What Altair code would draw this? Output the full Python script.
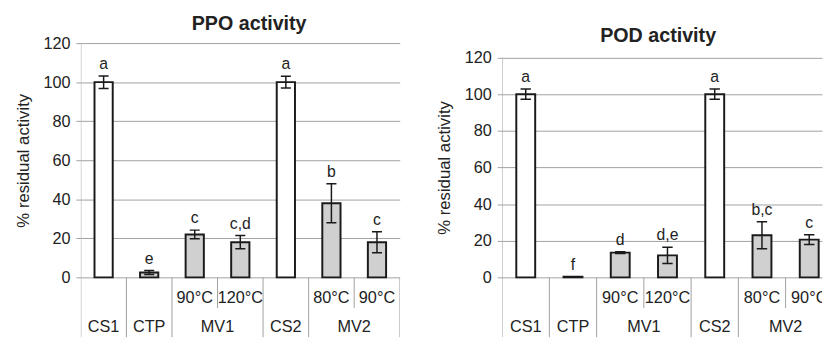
import altair as alt
import pandas as pd

# ---------------- data ----------------
columns = ["CS1", "CTP", "MV1 90°C", "MV1 120°C", "CS2", "MV2 80°C", "MV2 90°C"]
groups = ["CS1", "CTP", "MV1", "MV1", "CS2", "MV2", "MV2"]
sub_labels = ["", "", "90°C", "120°C", "", "80°C", "90°C"]
is_control = [True, False, False, False, True, False, False]

ppo_mean = [100, 2.5, 22, 18, 100, 38, 18]
ppo_err = [3.2, 1.0, 2.2, 3.4, 3.0, 10.0, 5.4]
ppo_letters = ["a", "e", "c", "c,d", "a", "b", "c"]

pod_mean = [100, 0.3, 13.5, 12, 100, 23, 20.6]
pod_err = [2.8, 0.1, 0.5, 4.4, 2.8, 7.4, 2.7]
pod_letters = ["a", "f", "d", "d,e", "a", "b,c", "c"]

y_ticks = [0, 20, 40, 60, 80, 100, 120]
Y_TOP = 120

# ---------------- style ----------------
FONT = "Liberation Sans"
GRID = "#a0a0a0"
INK = "#1a1a1a"
TEXT = "#222222"

ZERO_PX = 238   # distance from top of the view to the zero line
TABLE_PX = 61   # depth of the category table below zero
SHORT_PX = 31   # depth of sub-category separators
SUB_DY = 21
GROUP_DY = 51


def panel(means, errs, letters, plot_w, scale_h, col_px, title):
    unit = scale_h / Y_TOP               # px per data unit
    y_max = ZERO_PX / unit
    y_min = -TABLE_PX / unit
    y_short = -SHORT_PX / unit
    x_max = -0.5 + plot_w / col_px

    idx = list(range(len(columns)))
    kinds = ["control" if c else "treated" for c in is_control]
    df = pd.DataFrame({
        "i": idx, "col": columns, "group": groups, "sub": sub_labels,
        "mean": means, "err": errs, "letter": letters, "kind": kinds,
    })
    df["lo"] = df["mean"] - df["err"]
    df["hi"] = df["mean"] + df["err"]
    df["left"] = df["i"] - 0.2
    df["right"] = df["i"] + 0.2
    df["cap_l"] = df["i"] - 0.11
    df["cap_r"] = df["i"] + 0.11
    df["zero"] = 0.0

    # separators of the category table (the first one is also the y axis line)
    sx, sy0, sy1 = [], [], []
    for k in idx:
        full = k == 0 or groups[k] != groups[k - 1]
        sx.append(k - 0.5)
        sy0.append(Y_TOP if k == 0 else 0.0)
        sy1.append(y_min if full else y_short)
    sx.append(len(columns) - 0.5)
    sy0.append(0.0)
    sy1.append(y_min)
    sep = pd.DataFrame({"x": sx, "y0": sy0, "y1": sy1})
    sep = sep[sep["x"] <= x_max]

    # group labels
    gnames, gx = [], []
    for g in dict.fromkeys(groups):
        members = [k for k in idx if groups[k] == g]
        gnames.append(g)
        gx.append(sum(members) / len(members))
    gdf = pd.DataFrame({"g": gnames, "x": gx, "zero": 0.0})

    xs = alt.Scale(domain=[-0.5, x_max], nice=False, zero=False)
    ys = alt.Scale(domain=[y_min, y_max], nice=False, zero=False)
    yaxis = alt.Axis(
        values=y_ticks, grid=True, gridColor=GRID, gridWidth=1,
        domain=False, tickColor=GRID, tickSize=5,
        labelFont=FONT, labelFontSize=16.5, labelColor=TEXT, labelPadding=6,
        title="% residual activity", titleFont=FONT, titleFontSize=17,
        titleFontWeight="normal", titleColor=TEXT, titlePadding=11,
        titleY=ZERO_PX - scale_h / 2,
    )

    def X(f):
        return alt.X(f, type="quantitative", scale=xs, axis=None)

    def Y(f):
        return alt.Y(f, type="quantitative", scale=ys, axis=yaxis)

    base = alt.Chart(df)
    bars = base.mark_bar(stroke=INK, strokeWidth=2, clip=True).encode(
        x=X("left"), x2="right", y=Y("mean"), y2="zero",
        fill=alt.Fill("kind:N", scale=alt.Scale(domain=["control", "treated"],
                                                range=["#ffffff", "#d0d0d0"]),
                      legend=None),
    )
    ebar = base.mark_rule(color=INK, strokeWidth=1.5, clip=True).encode(
        x=X("i"), y=Y("lo"), y2="hi")
    cap_hi = base.mark_rule(color=INK, strokeWidth=1.5, clip=True).encode(
        x=X("cap_l"), x2="cap_r", y=Y("hi"))
    cap_lo = base.mark_rule(color=INK, strokeWidth=1.5, clip=True).encode(
        x=X("cap_l"), x2="cap_r", y=Y("lo"))
    lett = base.mark_text(font=FONT, fontSize=16, color=TEXT, baseline="middle",
                          dy=-12, clip=True).encode(
        x=X("i"), y=Y("hi"), text="letter")
    seps = alt.Chart(sep).mark_rule(color=GRID, strokeWidth=1, clip=True).encode(
        x=X("x"), y=Y("y0"), y2="y1")
    subs = base.mark_text(font=FONT, fontSize=16.5, color=TEXT, baseline="middle",
                          dy=SUB_DY, clip=True).encode(
        x=X("i"), y=Y("zero"), text="sub")
    glab = alt.Chart(gdf).mark_text(font=FONT, fontSize=16.5, color=TEXT,
                                    baseline="middle", dy=GROUP_DY, clip=True).encode(
        x=X("x"), y=Y("zero"), text="g")

    return alt.layer(seps, bars, ebar, cap_hi, cap_lo, lett, subs, glab).properties(
        width=plot_w, height=ZERO_PX + TABLE_PX, title=title)


left = panel(ppo_mean, ppo_err, ppo_letters, 324, 238, 324 / 7,
             alt.TitleParams("PPO activity", font=FONT, fontSize=20, fontWeight="bold",
                             color=TEXT, anchor="middle", baseline="bottom",
                             offset=-19, dx=9))
right = panel(pod_mean, pod_err, pod_letters, 325, 223.3, 48,
              alt.TitleParams("POD activity", font=FONT, fontSize=20,
                              fontWeight="bold", color=TEXT, anchor="middle",
                              baseline="bottom", offset=-19, dx=-4, dy=3.5))

chart = alt.hconcat(left, right, spacing=34).properties(
    padding={"left": 5, "top": 3, "right": 0, "bottom": 0}
).configure_view(stroke="transparent")

chart.save("out.html", embed_options={"renderer": "svg", "actions": False})
